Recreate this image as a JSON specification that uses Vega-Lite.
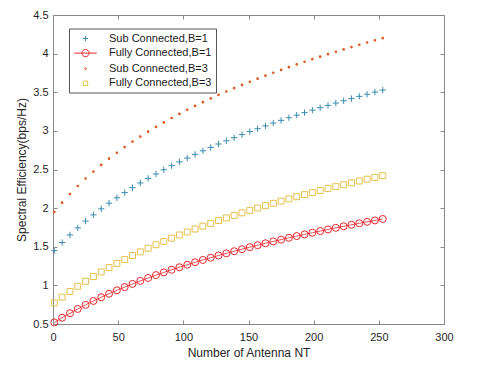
{
  "$schema": "https://vega.github.io/schema/vega-lite/v6.json",
  "width": 391,
  "height": 309,
  "autosize": {"type": "none"},
  "padding": {"left": 53, "top": 15, "right": 50, "bottom": 43},
  "background": "white",
  "config": {
    "view": {"stroke": "#8a8a8a", "strokeWidth": 1},
    "font": "Liberation Sans",
    "axis": {
      "domainColor": "#8a8a8a",
      "tickColor": "#8a8a8a",
      "tickSize": -4,
      "grid": false,
      "labelFont": "Liberation Sans",
      "labelFontSize": 11,
      "labelColor": "#262626",
      "titleFont": "Liberation Sans",
      "titleFontSize": 12,
      "titleFontWeight": "normal",
      "titleColor": "#262626"
    }
  },
  "datasets": {
    "se": [
      {"NT": 1, "sb1": 1.450, "fb1": 0.520, "sb3": 1.950, "fb3": 0.772},
      {"NT": 7, "sb1": 1.555, "fb1": 0.581, "sb3": 2.071, "fb3": 0.848},
      {"NT": 13, "sb1": 1.653, "fb1": 0.640, "sb3": 2.182, "fb3": 0.920},
      {"NT": 19, "sb1": 1.745, "fb1": 0.695, "sb3": 2.286, "fb3": 0.988},
      {"NT": 25, "sb1": 1.832, "fb1": 0.748, "sb3": 2.383, "fb3": 1.053},
      {"NT": 31, "sb1": 1.913, "fb1": 0.798, "sb3": 2.473, "fb3": 1.115},
      {"NT": 37, "sb1": 1.991, "fb1": 0.846, "sb3": 2.559, "fb3": 1.174},
      {"NT": 43, "sb1": 2.064, "fb1": 0.892, "sb3": 2.640, "fb3": 1.230},
      {"NT": 49, "sb1": 2.134, "fb1": 0.936, "sb3": 2.717, "fb3": 1.284},
      {"NT": 55, "sb1": 2.201, "fb1": 0.978, "sb3": 2.790, "fb3": 1.336},
      {"NT": 61, "sb1": 2.265, "fb1": 1.019, "sb3": 2.860, "fb3": 1.386},
      {"NT": 67, "sb1": 2.326, "fb1": 1.058, "sb3": 2.926, "fb3": 1.434},
      {"NT": 73, "sb1": 2.385, "fb1": 1.096, "sb3": 2.990, "fb3": 1.481},
      {"NT": 79, "sb1": 2.442, "fb1": 1.133, "sb3": 3.051, "fb3": 1.526},
      {"NT": 85, "sb1": 2.496, "fb1": 1.168, "sb3": 3.110, "fb3": 1.569},
      {"NT": 91, "sb1": 2.549, "fb1": 1.202, "sb3": 3.166, "fb3": 1.611},
      {"NT": 97, "sb1": 2.599, "fb1": 1.235, "sb3": 3.220, "fb3": 1.652},
      {"NT": 103, "sb1": 2.648, "fb1": 1.267, "sb3": 3.273, "fb3": 1.692},
      {"NT": 109, "sb1": 2.696, "fb1": 1.299, "sb3": 3.323, "fb3": 1.730},
      {"NT": 115, "sb1": 2.742, "fb1": 1.329, "sb3": 3.372, "fb3": 1.767},
      {"NT": 121, "sb1": 2.786, "fb1": 1.358, "sb3": 3.420, "fb3": 1.803},
      {"NT": 127, "sb1": 2.830, "fb1": 1.387, "sb3": 3.466, "fb3": 1.839},
      {"NT": 133, "sb1": 2.872, "fb1": 1.415, "sb3": 3.510, "fb3": 1.873},
      {"NT": 139, "sb1": 2.912, "fb1": 1.442, "sb3": 3.553, "fb3": 1.906},
      {"NT": 145, "sb1": 2.952, "fb1": 1.469, "sb3": 3.595, "fb3": 1.939},
      {"NT": 151, "sb1": 2.991, "fb1": 1.495, "sb3": 3.636, "fb3": 1.971},
      {"NT": 157, "sb1": 3.028, "fb1": 1.520, "sb3": 3.676, "fb3": 2.002},
      {"NT": 163, "sb1": 3.065, "fb1": 1.545, "sb3": 3.715, "fb3": 2.032},
      {"NT": 169, "sb1": 3.101, "fb1": 1.569, "sb3": 3.753, "fb3": 2.062},
      {"NT": 175, "sb1": 3.136, "fb1": 1.592, "sb3": 3.789, "fb3": 2.091},
      {"NT": 181, "sb1": 3.170, "fb1": 1.616, "sb3": 3.825, "fb3": 2.120},
      {"NT": 187, "sb1": 3.204, "fb1": 1.638, "sb3": 3.860, "fb3": 2.148},
      {"NT": 193, "sb1": 3.236, "fb1": 1.660, "sb3": 3.895, "fb3": 2.175},
      {"NT": 199, "sb1": 3.268, "fb1": 1.682, "sb3": 3.928, "fb3": 2.201},
      {"NT": 205, "sb1": 3.300, "fb1": 1.703, "sb3": 3.961, "fb3": 2.228},
      {"NT": 211, "sb1": 3.330, "fb1": 1.724, "sb3": 3.993, "fb3": 2.253},
      {"NT": 217, "sb1": 3.360, "fb1": 1.745, "sb3": 4.024, "fb3": 2.278},
      {"NT": 223, "sb1": 3.390, "fb1": 1.765, "sb3": 4.055, "fb3": 2.303},
      {"NT": 229, "sb1": 3.418, "fb1": 1.784, "sb3": 4.085, "fb3": 2.327},
      {"NT": 235, "sb1": 3.447, "fb1": 1.804, "sb3": 4.115, "fb3": 2.351},
      {"NT": 241, "sb1": 3.474, "fb1": 1.823, "sb3": 4.144, "fb3": 2.375},
      {"NT": 247, "sb1": 3.502, "fb1": 1.841, "sb3": 4.172, "fb3": 2.398},
      {"NT": 253, "sb1": 3.528, "fb1": 1.860, "sb3": 4.200, "fb3": 2.420}
    ]
  },
  "data": {"name": "se"},
  "transform": [{"fold": ["sb1", "fb1", "sb3", "fb3"], "as": ["Series", "SE"]}],
  "encoding": {
    "x": {"field": "NT", "type": "quantitative", "scale": {"domain": [0, 300], "nice": false}},
    "y": {"field": "SE", "type": "quantitative", "scale": {"domain": [0.5, 4.5], "nice": false, "zero": false}}
  },
  "layer": [
    {
      "transform": [{"filter": "datum.Series === 'fb1'"}],
      "mark": {"type": "line", "color": "#e8282f", "strokeWidth": 0.8},
      "encoding": {
        "x": {
          "field": "NT", "type": "quantitative",
          "axis": {"values": [0, 50, 100, 150, 200, 250, 300], "labelFlush": false, "labelPadding": 11, "titlePadding": 5, "title": "Number of Antenna NT"}
        },
        "y": {
          "field": "SE", "type": "quantitative",
          "axis": {"values": [0.5, 1, 1.5, 2, 2.5, 3, 3.5, 4, 4.5], "format": "~g", "labelPadding": 9, "titlePadding": 4, "title": "Spectral Efficiency(bps/Hz)"}
        }
      }
    },
    {
      "mark": {"type": "point", "filled": false, "size": 49, "strokeWidth": 1, "opacity": 0},
      "encoding": {
        "x": {
          "field": "NT", "type": "quantitative",
          "axis": {"orient": "top", "values": [0, 50, 100, 150, 200, 250, 300], "labels": false, "title": null}
        },
        "y": {
          "field": "SE", "type": "quantitative",
          "axis": {"orient": "right", "values": [0.5, 1, 1.5, 2, 2.5, 3, 3.5, 4, 4.5], "labels": false, "title": null}
        },
        "color": {
          "field": "Series", "type": "nominal",
          "scale": {"domain": ["sb1", "fb1", "sb3", "fb3"], "range": ["#3a8cb0", "#e8282f", "#d95319", "#e6c04e"]},
          "legend": {
            "title": null,
            "orient": "none",
            "legendX": 16,
            "legendY": 13.5,
            "direction": "vertical",
            "padding": 4,
            "strokeColor": "#555555",
            "fillColor": "white",
            "symbolSize": 121,
            "symbolStrokeWidth": 1,
            "symbolOpacity": 1,
            "symbolOffset": 6.5,
            "labelOffset": 17.5,
            "labelFont": "Liberation Sans",
            "labelFontSize": 11,
            "labelColor": "#1a1a1a",
            "rowPadding": 3.6,
            "labelExpr": "{'sb1': 'Sub Connected,B=1', 'fb1': 'Fully Connected,B=1', 'sb3': 'Sub Connected,B=3', 'fb3': 'Fully Connected,B=3'}[datum.value]"
          }
        },
        "shape": {
          "field": "Series", "type": "nominal",
          "scale": {"domain": ["sb1", "fb1", "sb3", "fb3"], "range": ["M-0.48,0H0.48M0,-0.48V0.48", "M-2.05,0H2.05M0.66,0A0.66,0.66,0,1,1,-0.66,0A0.66,0.66,0,1,1,0.66,0", "M0.16,0A0.16,0.16,0,1,1,-0.16,0A0.16,0.16,0,1,1,0.16,0", "M-0.4,-0.4H0.4V0.4H-0.4Z"]},
          "legend": null
        }
      }
    },
    {
      "transform": [{"filter": "datum.Series === 'sb1'"}],
      "mark": {"type": "point", "filled": false, "size": 49, "strokeWidth": 1, "opacity": 1, "color": "#3a8cb0", "shape": "M-0.9,0H0.9M0,-0.9V0.9"},
      "encoding": {"x": {"field": "NT", "type": "quantitative", "axis": null}, "y": {"field": "SE", "type": "quantitative", "axis": null}}
    },
    {
      "transform": [{"filter": "datum.Series === 'fb1'"}],
      "mark": {"type": "point", "filled": false, "size": 49, "strokeWidth": 1, "opacity": 1, "color": "#e8282f", "shape": "circle"},
      "encoding": {"x": {"field": "NT", "type": "quantitative", "axis": null}, "y": {"field": "SE", "type": "quantitative", "axis": null}}
    },
    {
      "transform": [{"filter": "datum.Series === 'sb3'"}],
      "mark": {"type": "point", "filled": false, "size": 49, "strokeWidth": 1.1, "opacity": 1, "color": "#d95319", "shape": "M0.22,0A0.22,0.22,0,1,1,-0.22,0A0.22,0.22,0,1,1,0.22,0"},
      "encoding": {"x": {"field": "NT", "type": "quantitative", "axis": null}, "y": {"field": "SE", "type": "quantitative", "axis": null}}
    },
    {
      "transform": [{"filter": "datum.Series === 'fb3'"}],
      "mark": {"type": "point", "filled": false, "size": 49, "strokeWidth": 1, "opacity": 1, "color": "#e6c04e", "shape": "M-0.85,-0.85H0.85V0.85H-0.85Z"},
      "encoding": {"x": {"field": "NT", "type": "quantitative", "axis": null}, "y": {"field": "SE", "type": "quantitative", "axis": null}}
    }
  ],
  "resolve": {"axis": {"x": "independent", "y": "independent"}}
}
